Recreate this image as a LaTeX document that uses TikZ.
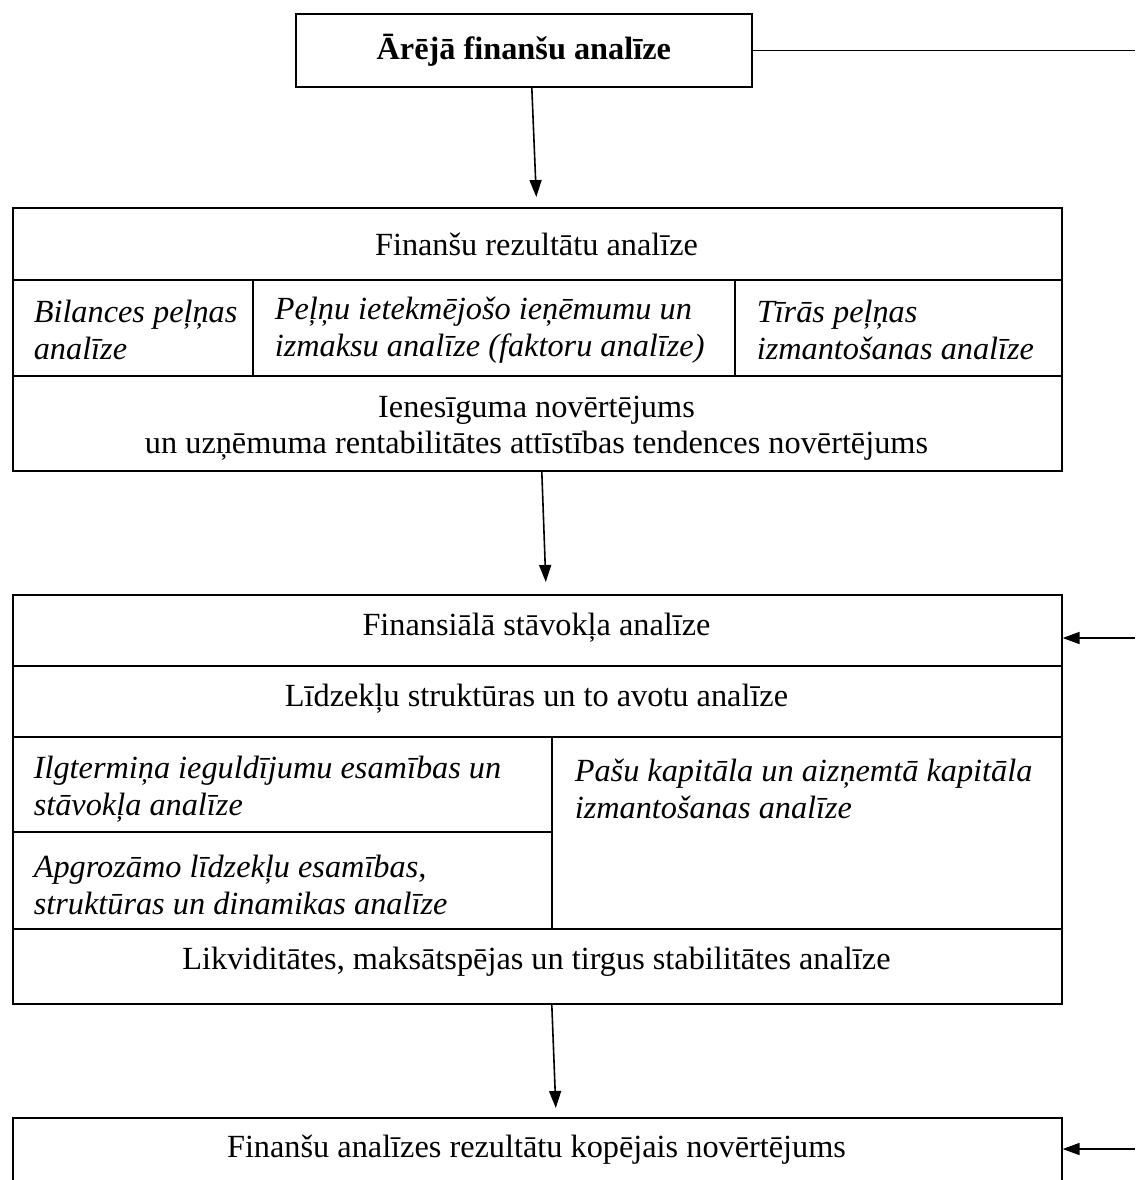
\documentclass[tikz,border=0pt]{standalone}
\usepackage{fontspec}
\setmainfont{Liberation Serif}
\usetikzlibrary{arrows.meta}
\begin{document}
\begin{tikzpicture}[x=1pt,y=-1pt,line width=1.6pt,
  box/.style={draw,inner sep=0pt,anchor=north west},
  txt/.style={inner sep=0pt,font=\fontsize{32.3}{36.5}\selectfont,align=center},
  itx/.style={inner sep=0pt,font=\fontsize{32.3}{36.5}\selectfont\itshape,align=left,anchor=west},
  arr/.style={-{Triangle[length=17pt,width=12pt]}}]
\useasboundingbox (0,0) rectangle (1135,1180);
\clip (0,0) rectangle (1135,1180);
% boxes
\node[box,minimum width=456pt,minimum height=73pt] (top) at (295,13)
  {\fontsize{32.3}{36.5}\selectfont\bfseries Ārējā finanšu analīze};
\node[box,minimum width=1049pt,minimum height=263pt] (b2) at (12,207) {};
\node[box,minimum width=1049pt,minimum height=409pt] (b3) at (12,594) {};
\node[box,minimum width=1049pt,minimum height=100pt] (b4) at (12,1117) {};
% internal lines box 2
\draw (12,280) -- (1061,280);
\draw (12,376) -- (1061,376);
\draw (253,280) -- (253,376);
\draw (735,280) -- (735,376);
% internal lines box 3
\draw (12,666) -- (1061,666);
\draw (12,737) -- (1061,737);
\draw (12,832) -- (552,832);
\draw (12,929) -- (1061,929);
\draw (552,737) -- (552,929);
% texts box 2
\node[txt] (t21) at (536.5,244) {Finanšu rezultātu analīze};
\node[itx] (t22) at (33,330) {Bilances peļņas\\analīze};
\node[itx] (t23) at (274,330) {Peļņu ietekmējošo ieņēmumu un\\izmaksu analīze (faktoru analīze)};
\node[itx] (t24) at (756,330) {Tīrās peļņas\\izmantošanas analīze};
\node[txt] (t25) at (536.5,428) {Ienesīguma novērtējums\\un uzņēmuma rentabilitātes attīstības tendences novērtējums};
% texts box 3
\node[txt] (t31) at (536.5,628) {Finansiālā stāvokļa analīze};
\node[txt] (t32) at (536.5,699) {Līdzekļu struktūras un to avotu analīze};
\node[itx] (t33) at (33,789) {Ilgtermiņa ieguldījumu esamības un\\stāvokļa analīze};
\node[itx] (t34) at (33,885) {Apgrozāmo līdzekļu esamības,\\struktūras un dinamikas analīze};
\node[itx] (t35) at (574,789) {Pašu kapitāla un aizņemtā kapitāla\\izmantošanas analīze};
\node[txt] (t36) at (536.5,962) {Likviditātes, maksātspējas un tirgus stabilitātes analīze};
% box 4 text
\node[txt] (t41) at (536.5,1150) {Finanšu analīzes rezultātu kopējais novērtējums};
% connectors
\coordinate (r1) at (1135,50.5);
\coordinate (r3) at (1135,638);
\coordinate (r4) at (1135,1149);
\draw (top.east |- r1) -- (r1);
\draw[arr] ([xshift=8pt]top.south) -- ([xshift=-1pt,yshift=10pt]b2.north);
\draw[arr] ([xshift=4.5pt]b2.south) -- ([xshift=8.5pt,yshift=12pt]b3.north);
\draw[arr] ([xshift=14.5pt]b3.south) -- ([xshift=18.5pt,yshift=9pt]b4.north);
\draw[arr] (r3) -- (b3.east |- r3);
\draw[arr] (r4) -- (b4.east |- r4);
\end{tikzpicture}
\end{document}
